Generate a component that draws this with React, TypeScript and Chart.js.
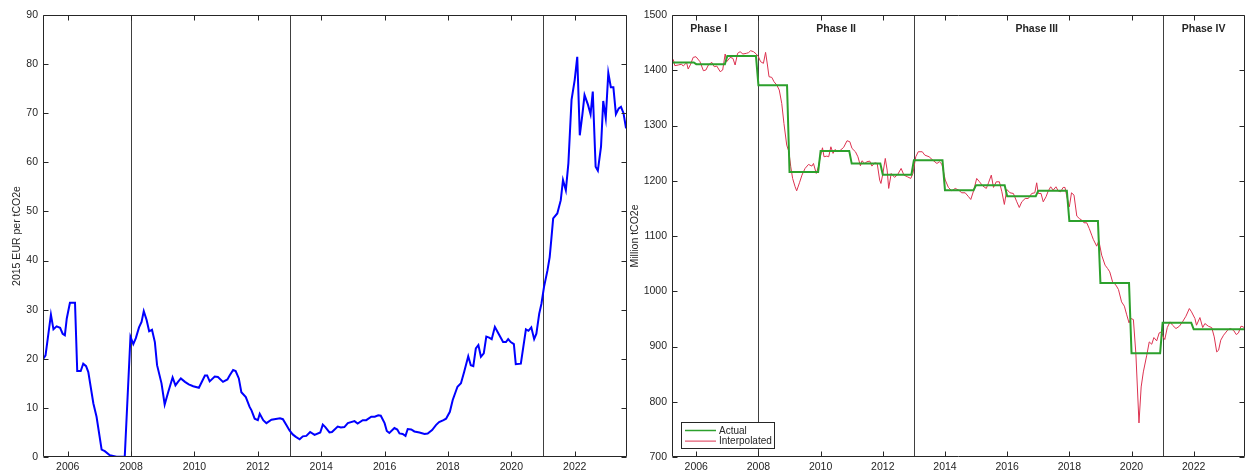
import React, { useEffect, useRef } from "react";
import { Chart, registerables } from "chart.js";
Chart.register(...registerables);

// ---------- data ----------
const X_MIN = 2005.22;
const X_MAX = 2023.65;
const xTickYears = [2006, 2008, 2010, 2012, 2014, 2016, 2018, 2020, 2022];
const phaseBoundaryYears = [2008, 2013, 2021];

const priceTicks = [0, 10, 20, 30, 40, 50, 60, 70, 80, 90];
const priceYears = [
  2005.23, 2005.3, 2005.47, 2005.55, 2005.65, 2005.76, 2005.84, 2005.91, 2005.97, 2006.07,
  2006.23, 2006.3, 2006.41, 2006.49, 2006.58, 2006.65, 2006.81, 2006.91, 2007.07, 2007.17,
  2007.33, 2007.54, 2007.8, 2007.98, 2008.07, 2008.15, 2008.25, 2008.33, 2008.4, 2008.49,
  2008.57, 2008.66, 2008.75, 2008.82, 2008.96, 2009.06, 2009.17, 2009.31, 2009.4, 2009.48,
  2009.57, 2009.7, 2009.82, 2009.96, 2010.14, 2010.33, 2010.4, 2010.48, 2010.64, 2010.74,
  2010.9, 2011.04, 2011.11, 2011.22, 2011.3, 2011.4, 2011.48, 2011.62, 2011.74, 2011.8,
  2011.9, 2012.0, 2012.06, 2012.17, 2012.27, 2012.43, 2012.7, 2012.79, 2012.9, 2013.0,
  2013.1, 2013.2, 2013.32, 2013.42, 2013.53, 2013.65, 2013.79, 2013.97, 2014.05, 2014.13,
  2014.26, 2014.34, 2014.52, 2014.62, 2014.73, 2014.84, 2015.05, 2015.15, 2015.31, 2015.42,
  2015.58, 2015.69, 2015.8, 2015.88, 2016.0, 2016.07, 2016.15, 2016.31, 2016.4, 2016.47,
  2016.57, 2016.66, 2016.73, 2016.84, 2016.94, 2017.1, 2017.26, 2017.36, 2017.5, 2017.62,
  2017.72, 2017.86, 2017.94, 2018.06, 2018.15, 2018.3, 2018.41, 2018.51, 2018.64, 2018.72,
  2018.8, 2018.88, 2018.96, 2019.04, 2019.13, 2019.21, 2019.3, 2019.38, 2019.48, 2019.58,
  2019.74, 2019.83, 2019.9, 2019.98, 2020.08, 2020.14, 2020.3, 2020.46, 2020.54, 2020.63,
  2020.72, 2020.79, 2020.88, 2020.95, 2021.03, 2021.14, 2021.21, 2021.26, 2021.32, 2021.45,
  2021.56, 2021.63, 2021.72, 2021.8, 2021.9, 2022.0, 2022.08, 2022.16, 2022.24, 2022.31,
  2022.42, 2022.5, 2022.57, 2022.66, 2022.73, 2022.83, 2022.9, 2022.98, 2023.06, 2023.14,
  2023.22, 2023.3, 2023.39, 2023.46, 2023.54, 2023.62,
];
const priceValues = [
  20.0, 20.7, 29.0, 26.0, 26.6, 26.3, 25.1, 24.8, 28.2, 31.4,
  31.4, 17.5, 17.5, 19.0, 18.5, 17.3, 10.9, 8.2, 1.5, 1.2,
  0.35, 0.05, 0.05, 24.5, 23.0, 24.2, 26.4, 27.5, 29.7, 27.9,
  25.6, 25.9, 23.4, 18.7, 15.0, 10.7, 13.2, 16.2, 14.6, 15.3,
  16.0, 15.3, 14.8, 14.4, 14.1, 16.6, 16.6, 15.4, 16.4, 16.3,
  15.3, 15.8, 16.6, 17.7, 17.5, 16.0, 13.2, 12.2, 10.2, 9.5,
  7.8, 7.5, 8.8, 7.5, 6.9, 7.6, 7.9, 7.7, 6.5, 5.4,
  4.6, 4.1, 3.6, 4.2, 4.3, 5.1, 4.5, 5.0, 6.6, 6.1,
  5.0, 5.1, 6.2, 6.0, 6.1, 6.9, 7.3, 6.8, 7.5, 7.5,
  8.2, 8.2, 8.5, 8.4, 6.9, 5.3, 4.9, 5.9, 5.6, 4.8,
  4.7, 4.3, 5.7, 5.6, 5.2, 5.0, 4.7, 4.8, 5.5, 6.5,
  7.1, 7.5, 7.8, 9.2, 11.6, 14.3, 15.0, 17.3, 20.5, 18.7,
  18.5, 22.1, 22.8, 20.4, 21.1, 24.5, 24.3, 24.0, 26.5, 25.3,
  23.4, 23.4, 24.0, 23.4, 23.0, 18.9, 19.0, 26.0, 25.7, 26.4,
  24.0, 25.1, 29.2, 31.2, 34.6, 38.0, 40.7, 44.2, 48.6, 49.6,
  52.3, 56.4, 54.3, 59.8, 72.7, 76.8, 81.5, 65.5, 69.6, 73.7,
  71.7, 69.8, 74.4, 59.1, 58.3, 63.2, 72.5, 69.0, 78.2, 75.3,
  75.3, 69.8, 71.0, 71.3, 70.0, 66.9,
];

const capTicks = [700, 800, 900, 1000, 1100, 1200, 1300, 1400, 1500];
const capYears = [2005, 2006, 2007, 2008, 2009, 2010, 2011, 2012, 2013, 2014, 2015, 2016, 2017, 2018, 2019, 2020, 2021, 2022, 2023];
const capActual = [1414, 1411, 1426, 1373, 1216, 1254, 1231, 1211, 1237, 1183, 1192, 1172, 1182, 1127, 1015, 888, 943, 931, 931];

const interpYears = [
  2005.26, 2005.31, 2005.42, 2005.53, 2005.58, 2005.69, 2005.74, 2005.82, 2005.9, 2005.99,
  2006.12, 2006.23, 2006.31, 2006.39, 2006.5, 2006.58, 2006.66, 2006.77, 2006.85, 2006.93,
  2006.98, 2007.09, 2007.18, 2007.25, 2007.33, 2007.41, 2007.5, 2007.61, 2007.68, 2007.75,
  2007.84, 2007.93, 2008.0, 2008.07, 2008.16, 2008.23, 2008.29, 2008.34, 2008.43, 2008.5,
  2008.59, 2008.67, 2008.75, 2008.82, 2008.91, 2008.98, 2009.04, 2009.1, 2009.18, 2009.23,
  2009.32, 2009.4, 2009.5, 2009.61, 2009.72, 2009.77, 2009.86, 2009.93, 2009.99, 2010.06,
  2010.11, 2010.2, 2010.26, 2010.33, 2010.4, 2010.47, 2010.53, 2010.64, 2010.74, 2010.85,
  2010.94, 2011.01, 2011.12, 2011.2, 2011.28, 2011.33, 2011.42, 2011.49, 2011.58, 2011.65,
  2011.74, 2011.82, 2011.9, 2011.94, 2012.0, 2012.08, 2012.14, 2012.19, 2012.27, 2012.38,
  2012.48, 2012.59, 2012.68, 2012.79, 2012.9, 2012.97, 2013.06, 2013.14, 2013.27, 2013.35,
  2013.49, 2013.63, 2013.74, 2013.82, 2013.9, 2014.01, 2014.11, 2014.22, 2014.33, 2014.44,
  2014.54, 2014.65, 2014.76, 2014.83, 2014.92, 2015.02, 2015.11, 2015.22, 2015.33, 2015.4,
  2015.49, 2015.56, 2015.65, 2015.75, 2015.83, 2015.91, 2015.99, 2016.09, 2016.2, 2016.31,
  2016.39, 2016.47, 2016.58, 2016.68, 2016.79, 2016.89, 2016.95, 2017.0, 2017.09, 2017.16,
  2017.25, 2017.32, 2017.4, 2017.48, 2017.57, 2017.64, 2017.72, 2017.8, 2017.86, 2017.91,
  2018.0, 2018.07, 2018.15, 2018.24, 2018.32, 2018.4, 2018.47, 2018.56, 2018.64, 2018.72,
  2018.77, 2018.88, 2018.95, 2019.04, 2019.15, 2019.23, 2019.3, 2019.39, 2019.5, 2019.58,
  2019.68, 2019.77, 2019.84, 2019.92, 2019.98, 2020.06, 2020.14, 2020.24, 2020.31, 2020.38,
  2020.49, 2020.57, 2020.65, 2020.72, 2020.81, 2020.89, 2020.97, 2021.02, 2021.07, 2021.15,
  2021.24, 2021.32, 2021.43, 2021.54, 2021.64, 2021.75, 2021.86, 2021.93, 2022.04, 2022.09,
  2022.2, 2022.29, 2022.36, 2022.47, 2022.58, 2022.66, 2022.74, 2022.8, 2022.87, 2022.96,
  2023.09, 2023.17, 2023.28, 2023.37, 2023.44, 2023.52, 2023.6, 2023.66,
];
const interpValues = [
  1419.7, 1408.3, 1409.5, 1411, 1407.6, 1413.7, 1402.2, 1411, 1423.3, 1424.5,
  1415.5, 1399.2, 1400.4, 1409.5, 1414.3, 1406.4, 1407.6, 1397.4, 1400.4, 1429.4,
  1415.5, 1423.3, 1421.5, 1409.5, 1430.6, 1433.6, 1429.4, 1430.6, 1431.8, 1435.4,
  1433.6, 1429.4, 1424.5, 1415.5, 1412.5, 1432.4, 1409.5, 1388.3, 1387.1, 1379.3,
  1373.2, 1364.2, 1340, 1303.8, 1264.6, 1252.5, 1225.3, 1204.2, 1189.1, 1181.8,
  1196.3, 1210.2, 1222.3, 1229.5, 1226.5, 1231.3, 1213.2, 1225.3, 1243.4, 1259.7,
  1243.4, 1244.6, 1243.4, 1261.5, 1249.5, 1256.7, 1252.5, 1255.5, 1260.3, 1272.4,
  1270.6, 1258.5, 1252.5, 1243.4, 1227.1, 1236.2, 1231.3, 1234.4, 1235.6, 1226.5,
  1232.5, 1231.3, 1201.2, 1195.1, 1212, 1240.4, 1219.3, 1186.1, 1213.2, 1206,
  1211.4, 1222.3, 1210.2, 1207.2, 1204.2, 1213.2, 1243.4, 1252.5, 1252.5, 1246.4,
  1243.4, 1236.2, 1231.3, 1234.4, 1230.1, 1201.2, 1187.9, 1181.8, 1186.1, 1183,
  1178.2, 1178.2, 1171, 1166.1, 1181.8, 1204.2, 1198.1, 1190.3, 1186.1, 1196.3,
  1210.2, 1187.9, 1198.1, 1198.1, 1180, 1157.1, 1184.2, 1178.2, 1177, 1161.9,
  1151.6, 1161.9, 1167.9, 1167.9, 1177, 1178.2, 1196.3, 1177, 1177, 1161.9,
  1171, 1181.2, 1189.1, 1183, 1189.1, 1181.8, 1180, 1187.9, 1187.9, 1174,
  1152.8, 1178.2, 1174, 1136, 1131.7, 1128.7, 1123.9, 1123.9, 1113.6, 1101.5,
  1094, 1081.6, 1091.3, 1065.3, 1047.2, 1041.2, 1035.1, 1017, 1011, 1003.1,
  980.8, 973, 958.5, 942.8, 950.6, 948.8, 887.2, 761.6, 826.8, 854,
  884.2, 908.3, 904.1, 916.2, 910.2, 924.6, 926.5, 917.4, 912.6, 934.3,
  944.6, 938.5, 932.5, 936.7, 944.6, 954.8, 968.7, 962.7, 950.6, 938.5,
  952.4, 934.3, 941.6, 936.7, 934.3, 917.4, 890.2, 893.2, 911.4, 920.4,
  929.5, 932.5, 929.5, 921.6, 924.6, 936.7, 935.5, 930.7,
];

const phaseLabels = ["Phase I", "Phase II", "Phase III", "Phase IV"];
const phaseLabelYears = [2006.4, 2010.5, 2016.95, 2022.32];

// ---------- styling ----------
const FONT = "'Liberation Sans', Arial, Helvetica, sans-serif";
const AXIS_COLOR = "#262626";
const FS = 10.5;

function framePlugin(extra?: (chart: any) => void) {
  return {
    id: "frame" + Math.random().toString(36).slice(2),
    beforeDatasetsDraw(chart: any) {
      const { ctx, chartArea: a, scales } = chart;
      ctx.save();
      ctx.strokeStyle = "#404040";
      ctx.lineWidth = 1;
      for (const yr of phaseBoundaryYears) {
        const x = Math.round(scales.x.getPixelForValue(yr)) + 0.5;
        ctx.beginPath();
        ctx.moveTo(x, a.top);
        ctx.lineTo(x, a.bottom);
        ctx.stroke();
      }
      ctx.restore();
    },
    afterDatasetsDraw(chart: any) {
      const { ctx, chartArea: a, scales } = chart;
      ctx.save();
      ctx.strokeStyle = AXIS_COLOR;
      ctx.lineWidth = 1;
      const L = a.left + 0.5, R = a.right - 0.5, T = a.top + 0.5, B = a.bottom - 0.5;
      ctx.beginPath();
      ctx.rect(L, T, R - L, B - T);
      ctx.stroke();
      const tl = 5;
      ctx.beginPath();
      for (const t of scales.x.ticks) {
        const x = Math.round(scales.x.getPixelForValue(t.value)) + 0.5;
        ctx.moveTo(x, B); ctx.lineTo(x, B - tl);
        ctx.moveTo(x, T); ctx.lineTo(x, T + tl);
      }
      for (const t of scales.y.ticks) {
        const y = Math.round(scales.y.getPixelForValue(t.value)) + 0.5;
        ctx.moveTo(L, y); ctx.lineTo(L + tl, y);
        ctx.moveTo(R, y); ctx.lineTo(R - tl, y);
      }
      ctx.stroke();
      ctx.restore();
      if (extra) extra(chart);
    },
  };
}

function baseOptions(yMin: number, yMax: number, yTicks: number[], yTitle: string, yWidth: number, titlePad: number, rightPad: number) {
  return {
    responsive: false,
    animation: false as const,
    devicePixelRatio: 1,
    layout: { padding: { top: 15, right: rightPad, left: 0, bottom: 0 } },
    plugins: { legend: { display: false }, tooltip: { enabled: false } },
    elements: { point: { radius: 0 }, line: { tension: 0 } },
    scales: {
      x: {
        type: "linear" as const,
        min: X_MIN,
        max: X_MAX,
        afterBuildTicks: (s: any) => { s.ticks = xTickYears.map((v) => ({ value: v })); },
        afterFit: (s: any) => { s.height = 18; },
        grid: { display: false, drawTicks: false },
        border: { display: false },
        ticks: {
          autoSkip: false, maxRotation: 0, padding: 4, color: AXIS_COLOR,
          font: { family: FONT, size: FS },
          callback: (v: any) => String(v),
        },
      },
      y: {
        type: "linear" as const,
        min: yMin,
        max: yMax,
        afterBuildTicks: (s: any) => { s.ticks = yTicks.map((v) => ({ value: v })); },
        afterFit: (s: any) => { s.width = yWidth; },
        grid: { display: false, drawTicks: false },
        border: { display: false },
        ticks: { padding: 5, color: AXIS_COLOR, font: { family: FONT, size: FS }, callback: (v: any) => String(v) },
        title: { display: true, text: yTitle, color: AXIS_COLOR, font: { family: FONT, size: FS }, padding: { top: titlePad, bottom: 0 } },
      },
    },
  };
}

function PriceChart() {
  const ref = useRef<HTMLCanvasElement>(null);
  useEffect(() => {
    const chart = new Chart(ref.current!, {
      type: "line",
      data: {
        datasets: [{
          label: "Price",
          data: priceYears.map((x, i) => ({ x, y: priceValues[i] })),
          borderColor: "#0000ff",
          borderWidth: 2,
          pointRadius: 0,
        }],
      },
      options: baseOptions(0, 90, priceTicks, "2015 EUR per tCO2e", 43, 10.4, 3) as any,
      plugins: [framePlugin()],
    });
    return () => chart.destroy();
  }, []);
  return <canvas ref={ref} width={630} height={475} style={{ position: "absolute", left: 0, top: 0 }} />;
}

function CapChart() {
  const ref = useRef<HTMLCanvasElement>(null);
  useEffect(() => {
    const actualPts: { x: number; y: number }[] = [];
    capYears.forEach((yr, i) => {
      actualPts.push({ x: yr, y: capActual[i] });
      actualPts.push({ x: yr + 0.92, y: capActual[i] });
    });
    const extra = (chart: any) => {
      const { ctx, chartArea: a, scales } = chart;
      ctx.save();
      // phase labels
      ctx.fillStyle = AXIS_COLOR;
      ctx.font = `bold ${FS}px ${FONT}`;
      ctx.textAlign = "center";
      ctx.textBaseline = "middle";
      phaseLabels.forEach((lab, i) => {
        ctx.fillText(lab, scales.x.getPixelForValue(phaseLabelYears[i]), a.top + 14.5);
      });
      // legend
      const bx = a.left + 9.5, by = a.bottom - 34.5, bw = 93, bh = 26;
      ctx.fillStyle = "#ffffff";
      ctx.fillRect(bx, by, bw, bh);
      ctx.strokeStyle = AXIS_COLOR;
      ctx.lineWidth = 1;
      ctx.strokeRect(bx, by, bw, bh);
      const items = chart.data.datasets;
      ctx.font = `${10}px ${FONT}`;
      ctx.textAlign = "left";
      items.forEach((ds: any, i: number) => {
        const ly = by + 8 + i * 10.6;
        ctx.strokeStyle = ds.borderColor;
        ctx.lineWidth = i === 0 ? 1.5 : 1;
        ctx.beginPath();
        ctx.moveTo(bx + 3.5, ly);
        ctx.lineTo(bx + 34.5, ly);
        ctx.stroke();
        ctx.fillStyle = AXIS_COLOR;
        ctx.fillText(ds.label, bx + 37.5, ly + 0.5);
      });
      ctx.restore();
    };
    const chart = new Chart(ref.current!, {
      type: "line",
      data: {
        datasets: [
          {
            label: "Actual",
            data: actualPts,
            borderColor: "#2ca02c",
            borderWidth: 2,
            pointRadius: 0,
          },
          {
            label: "Interpolated",
            data: interpYears.map((x, i) => ({ x, y: interpValues[i] })),
            borderColor: "#dc3250",
            borderWidth: 1,
            pointRadius: 0,
          },
        ],
      },
      options: baseOptions(700, 1500, capTicks, "Million tCO2e", 52, 8.7, 4) as any,
      plugins: [framePlugin(extra)],
    });
    return () => chart.destroy();
  }, []);
  return <canvas ref={ref} width={629} height={475} style={{ position: "absolute", left: 620, top: 0 }} />;
}

export default function App() {
  return (
    <div style={{ position: "absolute", left: 0, top: 0, width: 1249, height: 475, background: "#ffffff", overflow: "hidden" }}>
      <PriceChart />
      <CapChart />
    </div>
  );
}
